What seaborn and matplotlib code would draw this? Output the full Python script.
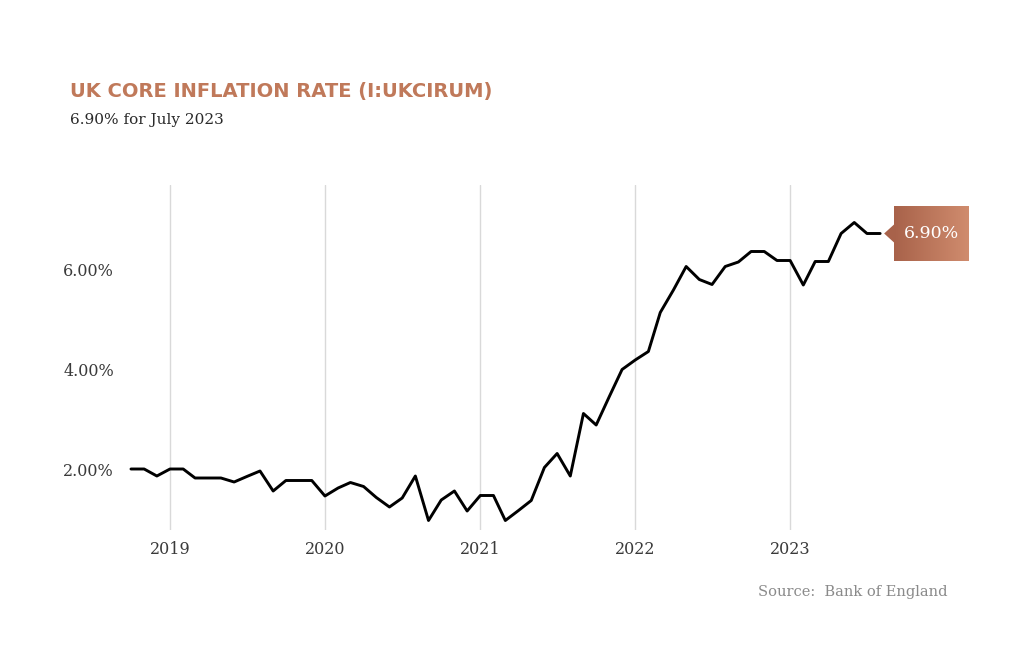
import matplotlib

matplotlib.use("Agg")
import matplotlib.pyplot as plt
import matplotlib.dates as mdates
import numpy as np
import pandas as pd
import seaborn as sns
from matplotlib.patches import Polygon

COPPER = "#C0795A"
BOX_LEFT = "#A8624A"
BOX_RIGHT = "#D08C6E"
TEXT = "#3A3A3A"
GRID = "#D9D9D9"

# monthly readings, Oct 2018 - Aug 2023 (values as plotted)
start_month = "2018-10-01"
values = [
    2.00, 2.00, 1.86,
    2.00, 2.00, 1.82, 1.82, 1.82, 1.74, 1.85, 1.96, 1.56, 1.77, 1.77, 1.77,
    1.46, 1.62, 1.73, 1.65, 1.43, 1.24, 1.42, 1.86, 0.97, 1.38, 1.56, 1.16,
    1.47, 1.47, 0.97, 1.17, 1.37, 2.03, 2.31, 1.86, 3.11, 2.88, 3.45, 3.99,
    4.18, 4.35, 5.13, 5.58, 6.05, 5.79, 5.69, 6.05, 6.14, 6.35, 6.35, 6.17,
    6.17, 5.68, 6.15, 6.15, 6.71, 6.93, 6.71, 6.71,
]
y_ticks = [2, 4, 6]
year_ticks = ["2019", "2020", "2021", "2022", "2023"]
last_label = "6.90%"
title = "UK CORE INFLATION RATE (I:UKCIRUM)"
subtitle = "6.90% for July 2023"
source = "Source:  Bank of England"

frame = pd.DataFrame(
    {
        "date": pd.date_range(start_month, periods=len(values), freq="MS"),
        "rate": values,
    }
)

sns.set_theme(style="white")
plt.rcParams["font.family"] = ["DejaVu Serif"]

fig = plt.figure(figsize=(10.24, 6.45), dpi=100)
ax = fig.add_axes([128 / 1024, 1 - 530 / 645, (968 - 128) / 1024, (530 - 185) / 645])

sns.lineplot(data=frame, x="date", y="rate", color="black", linewidth=2.1, ax=ax)

ax.set_xlim(pd.Timestamp("2018-09-24"), pd.Timestamp("2024-02-24"))
ax.set_ylim(0.78, 7.68)
ax.set_xticks([pd.Timestamp(f"{y}-01-01") for y in year_ticks])
ax.set_xticklabels(year_ticks)
ax.set_yticks(y_ticks)
ax.set_yticklabels([f"{v:.2f}%" for v in y_ticks])
ax.tick_params(axis="both", length=0, labelsize=11.5, labelcolor=TEXT)
ax.tick_params(axis="y", pad=10)
ax.tick_params(axis="x", pad=8)
ax.xaxis.grid(True, color=GRID, linewidth=1)
ax.yaxis.grid(False)
ax.set(xlabel="", ylabel="")
sns.despine(ax=ax, left=True, bottom=True)

# value tag next to the last point
fig.canvas.draw()
last = frame.iloc[-1]
px, py = ax.transData.transform((mdates.date2num(last["date"]), last["rate"]))
W, H = fig.bbox.width, fig.bbox.height
tip_x, box_x0, box_w, box_h = px + 4, px + 14, 75, 55
tag = fig.add_axes([box_x0 / W, (py - box_h / 2) / H, box_w / W, box_h / H])
grad = np.linspace(0, 1, 256).reshape(1, -1)
cmap = matplotlib.colors.LinearSegmentedColormap.from_list("tag", [BOX_LEFT, BOX_RIGHT])
tag.imshow(grad, aspect="auto", cmap=cmap, extent=(0, 1, 0, 1))
tag.set_axis_off()
tag.text(0.5, 0.5, last_label, color="white", ha="center", va="center", fontsize=12.5)
fig.patches.append(
    Polygon(
        [[tip_x / W, py / H], [(box_x0 + 1) / W, (py + 10) / H], [(box_x0 + 1) / W, (py - 10) / H]],
        closed=True,
        transform=fig.transFigure,
        facecolor=BOX_LEFT,
        edgecolor="none",
    )
)

fig.text(70 / 1024, 1 - 91 / 645, title, color=COPPER, fontsize=14, fontweight="bold",
         family=["DejaVu Sans"], va="center")
fig.text(70 / 1024, 1 - 120 / 645, subtitle, color="#2A2A2A", fontsize=11, va="center")
fig.text(947 / 1024, 1 - 592 / 645, source, color="#8A8A8A", fontsize=10.5, ha="right", va="center")

fig.savefig("out.png", dpi=100, facecolor="white")
